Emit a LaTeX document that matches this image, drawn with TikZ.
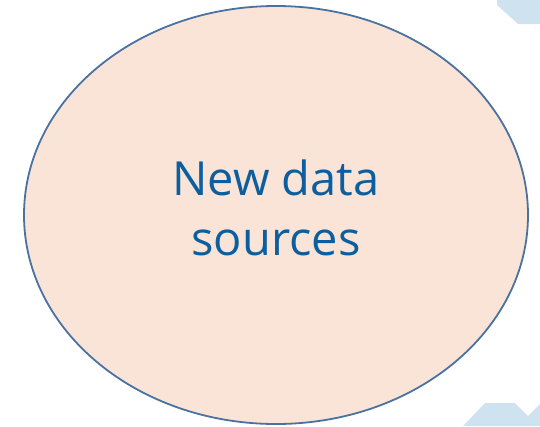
\documentclass[tikz,border=0pt]{standalone}
\usepackage{fontspec}
\setmainfont{Open Sans}
\usetikzlibrary{shapes.geometric}

\definecolor{blobblue}{HTML}{CFE2EF}
\definecolor{rimblue}{HTML}{4A72A0}
\definecolor{peach}{HTML}{FAE4D7}
\definecolor{inkblue}{HTML}{0B5FA0}

\tikzset{
    source/.style={ellipse, draw=rimblue, fill=peach, line width=1.8pt,
        minimum width=504pt, minimum height=418pt, inner sep=0pt},
    caption/.style={text=inkblue, align=center,
        font=\fontsize{47}{60}\selectfont}
}

\begin{document}
\begin{tikzpicture}[x=1pt, y=-1pt]

    \useasboundingbox (0,0) rectangle (540,426);

    % pale shapes in the corners
    \fill [blobblue] (497,0) -- (497,5) -- (518,24) -- (540,24) -- (540,0) -- cycle;
    \fill [blobblue] (463,426) -- (485,403) -- (515,403) -- (528,416) -- (540,404) -- (540,426) -- cycle;

    \node[source] (sources) at (276,215) {};
    \node[caption] (label) at (276,208) {New data\\sources};

\end{tikzpicture}
\end{document}
